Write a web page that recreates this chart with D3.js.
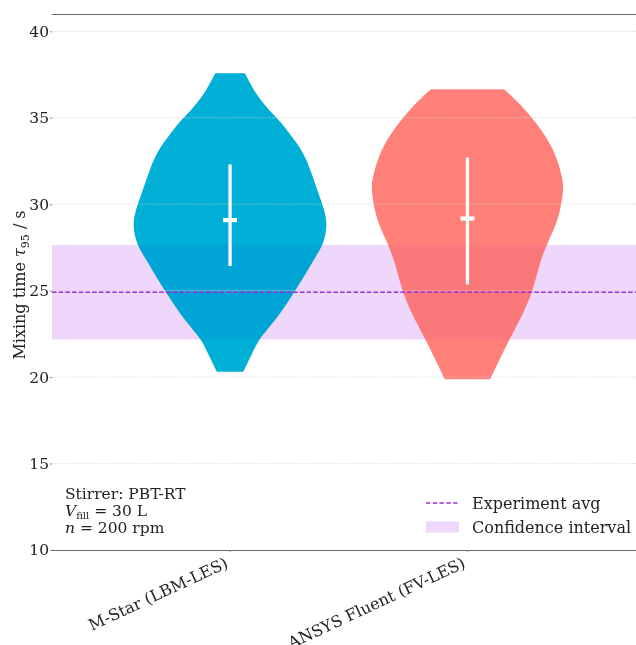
<!DOCTYPE html>
<html>
<head>
<meta charset="utf-8">
<script src="https://cdn.jsdelivr.net/npm/d3@7"></script>
<style>
  body { margin: 0; background: #fff; }
  svg { display: block; font-family: "DejaVu Serif", serif; }
</style>
</head>
<body>
<svg id="chart" width="636" height="645"></svg>
<script>
// categories and colours
const categories = ['M-Star (LBM-LES)', 'ANSYS Fluent (FV-LES)'];
const colors = ['#00afd6', '#ff7f79'];

// violin outlines: tau95 level -> relative density (width)
const levels1 = [37.57, 36.4, 35.43, 34.95, 33.99, 33.02, 32.06, 30.64, 29.65, 28.79, 27.63, 26.76, 25.8, 24.91, 23.87, 22.91, 22.14, 21.39, 20.31];
const dens1   = [0.153, 0.26, 0.40, 0.49, 0.625, 0.75, 0.82, 0.906, 0.969, 1.0, 0.958, 0.854, 0.76, 0.656, 0.54, 0.406, 0.29, 0.23, 0.135];
const levels2 = [36.65, 36.01, 34.99, 33.89, 32.73, 31.39, 30.81, 29.48, 28.5, 27.63, 26.59, 24.91, 23.7, 22.14, 20.81, 19.88];
const dens2   = [0.375, 0.5, 0.667, 0.81, 0.917, 0.98, 0.985, 0.948, 0.885, 0.81, 0.74, 0.667, 0.573, 0.427, 0.31, 0.234];

// inner marks: whisker low / high and mean
const whiskerLow  = [26.43, 25.36];
const whiskerHigh = [32.30, 32.70];
const means       = [29.08, 29.17];

// experiment
const expAvg = 24.91;
const ciLow = 22.18;
const ciHigh = 27.63;

const yTicks = [10, 15, 20, 25, 30, 35, 40];
const annotation = ['Stirrer: PBT-RT', 'V_fill = 30 L', 'n = 200 rpm'];

const svg = d3.select('#chart');
const pLeft = 52, pRight = 636, pTop = 14, pBottom = 550;

const x = d3.scaleLinear().domain([-0.75, 1.71]).range([pLeft, pRight]);
const y = d3.scaleLinear().domain([10, 41]).range([pBottom, pTop]);
const w = d3.scaleLinear().domain([0, 1]).range([0, 97.5]);

// confidence band
svg.append('rect')
  .attr('x', pLeft).attr('width', pRight - pLeft)
  .attr('y', y(ciHigh)).attr('height', y(ciLow) - y(ciHigh))
  .attr('fill', '#efd6fb');

// violins
const violins = [
  { levels: levels1, dens: dens1 },
  { levels: levels2, dens: dens2 }
];

const area = (i) => d3.area()
  .curve(d3.curveBasis)
  .y(d => y(d[0]))
  .x0(d => x(i) - w(d[1]))
  .x1(d => x(i) + w(d[1]));

const defs = svg.append('defs');
const clip = defs.append('clipPath').attr('id', 'violin-clip');

violins.forEach((v, i) => {
  const pts = d3.zip(v.levels, v.dens);
  svg.append('path')
    .attr('d', area(i)(pts))
    .attr('fill', colors[i]);
  clip.append('path').attr('d', area(i)(pts));
});

// band darkens the violins slightly where they overlap
svg.append('rect')
  .attr('x', pLeft).attr('width', pRight - pLeft)
  .attr('y', y(ciHigh)).attr('height', y(ciLow) - y(ciHigh))
  .attr('fill', '#efd6fb')
  .attr('opacity', 0.35)
  .attr('clip-path', 'url(#violin-clip)')
  .style('mix-blend-mode', 'multiply');

// grid
svg.append('g')
  .selectAll('line')
  .data(yTicks.filter(t => t > 10))
  .join('line')
  .attr('x1', pLeft).attr('x2', pRight)
  .attr('y1', d => y(d)).attr('y2', d => y(d))
  .attr('stroke', '#d0d0d0')
  .attr('stroke-opacity', 0.6)
  .attr('stroke-width', 1)
  .attr('stroke-dasharray', '1.5,1');

// experiment average
svg.append('line')
  .attr('x1', pLeft).attr('x2', pRight)
  .attr('y1', y(expAvg)).attr('y2', y(expAvg))
  .attr('stroke', '#9b30d8')
  .attr('stroke-width', 1.4)
  .attr('stroke-dasharray', '4.5,2.2');

// inner whiskers and mean crosses
violins.forEach((v, i) => {
  svg.append('line')
    .attr('x1', x(i)).attr('x2', x(i))
    .attr('y1', y(whiskerHigh[i])).attr('y2', y(whiskerLow[i]))
    .attr('stroke', '#fff').attr('stroke-width', 3.3);
  svg.append('line')
    .attr('x1', x(i) - 7).attr('x2', x(i) + 7)
    .attr('y1', y(means[i])).attr('y2', y(means[i]))
    .attr('stroke', '#fff').attr('stroke-width', 4.2);
});

// spines
[pTop, pBottom].forEach(py => {
  svg.append('line')
    .attr('x1', pLeft).attr('x2', pRight)
    .attr('y1', py + 0.5).attr('y2', py + 0.5)
    .attr('stroke', '#666').attr('stroke-width', 1);
});

// y axis
const yAxis = svg.append('g')
  .attr('transform', `translate(${pLeft},0)`)
  .call(d3.axisLeft(y).tickValues(yTicks).tickSize(2).tickPadding(1));
yAxis.select('.domain').remove();
yAxis.selectAll('.tick line').attr('stroke', '#888');
yAxis.selectAll('.tick text')
  .attr('font-family', '"DejaVu Serif", serif')
  .attr('font-size', 15.5)
  .attr('fill', '#222');

// x tick marks and labels
const xg = svg.append('g');
categories.forEach((c, i) => {
  xg.append('line')
    .attr('x1', x(i)).attr('x2', x(i))
    .attr('y1', pBottom).attr('y2', pBottom + 2)
    .attr('stroke', '#888');
  xg.append('text')
    .attr('transform', `translate(${x(i) - 1},${pBottom + 17}) rotate(-25)`)
    .attr('text-anchor', 'end')
    .attr('font-size', 16)
    .attr('fill', '#222')
    .text(c);
});

// y label
const yl = svg.append('text')
  .attr('transform', `translate(25,285) rotate(-90)`)
  .attr('text-anchor', 'middle')
  .attr('font-size', 16)
  .attr('fill', '#222');
yl.append('tspan').text('Mixing time ');
yl.append('tspan').attr('font-style', 'italic').text('τ');
yl.append('tspan').attr('font-size', 11).attr('dy', 4).text('95');
yl.append('tspan').attr('dy', -4).text(' / s');

// annotation
const ann = svg.append('g').attr('font-size', 15.5).attr('fill', '#222');
ann.append('text').attr('x', 65).attr('y', 499).text(annotation[0]);
const a2 = ann.append('text').attr('x', 65).attr('y', 516);
a2.append('tspan').attr('font-style', 'italic').text('V');
a2.append('tspan').attr('font-size', 10).attr('dy', 2.5).text('fill');
a2.append('tspan').attr('dy', -2.5).text(' = 30 L');
const a3 = ann.append('text').attr('x', 65).attr('y', 533);
a3.append('tspan').attr('font-style', 'italic').text('n');
a3.append('tspan').text(' = 200 rpm');

// legend
const lg = svg.append('g').attr('font-size', 16).attr('fill', '#222');
lg.append('line')
  .attr('x1', 426).attr('x2', 459).attr('y1', 503).attr('y2', 503)
  .attr('stroke', '#9b30d8').attr('stroke-width', 1.4)
  .attr('stroke-dasharray', '4.3,2.5');
lg.append('text').attr('x', 472).attr('y', 509).text('Experiment avg');
lg.append('rect')
  .attr('x', 426).attr('y', 521.5).attr('width', 33).attr('height', 11)
  .attr('fill', '#efd6fb');
lg.append('text').attr('x', 472).attr('y', 533).text('Confidence interval');
</script>
</body>
</html>
